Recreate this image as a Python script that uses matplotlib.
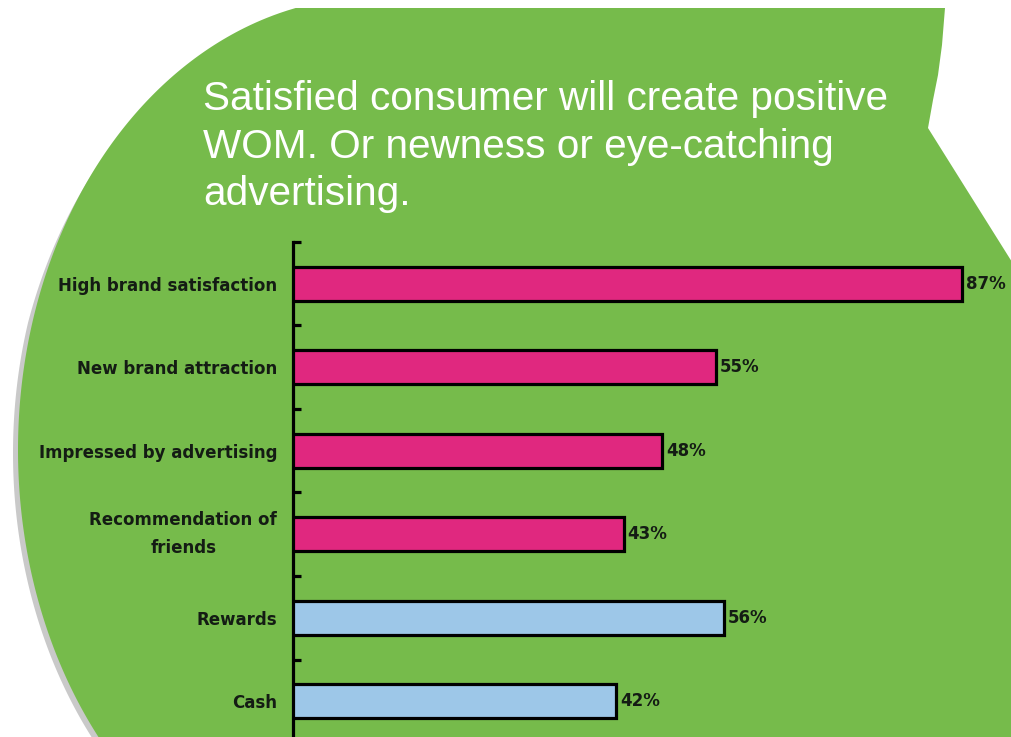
import matplotlib
matplotlib.use("Agg")
import matplotlib.pyplot as plt
import numpy as np
from matplotlib.patches import Polygon

# ---- data ----
categories = [
    "High brand satisfaction",
    "New brand attraction",
    "Impressed by advertising",
    "Recommendation of\nfriends",
    "Rewards",
    "Cash",
]
values = [87, 55, 48, 43, 56, 42]
groups = ["driver", "driver", "driver", "driver", "incentive", "incentive"]
title_lines = [
    "Satisfied consumer will create positive",
    "WOM. Or newness or eye-catching",
    "advertising.",
]

group_colors = {"driver": "#E0287F", "incentive": "#9DC7E8"}
green = "#76BB4B"

W, H = 1012, 737
fig = plt.figure(figsize=(W / 100, H / 100), dpi=100)
fig.patch.set_facecolor("white")

# ---- background bubble drawn in pixel space ----
bg = fig.add_axes([0, 0, 1, 1])
bg.set_xlim(0, W)
bg.set_ylim(H, 0)
bg.axis("off")

cx, cy, ea, eb = 373.5, 450, 355.5, 453
ys = np.linspace(8, H, 300)
xs = cx - ea * np.sqrt(np.clip(1 - ((ys - cy) / eb) ** 2, 0, None))
right_edge = [(W + 10, H + 10), (W + 10, 262), (W, 262), (928, 128),
              (933, 100), (938, 75), (942, 45), (945, 8)]

shade = np.clip((ys - 120) / 200, 0, 1)
shadow_pts = list(zip(xs - 5 * shade, ys + 3)) + [(W + 10, H + 10)]
bg.add_patch(Polygon(shadow_pts, closed=True, facecolor="#c9c9c9",
                     edgecolor="none"))
bubble_pts = list(zip(xs, ys)) + [(xs[-1], H + 10)] + right_edge
bg.add_patch(Polygon(bubble_pts, closed=True, facecolor=green,
                     edgecolor="none"))

for i, line in enumerate(title_lines):
    bg.text(203, 110 + 47.5 * i, line, color="white", fontsize=29.2,
            family="Liberation Sans", ha="left", va="baseline")

# ---- bar chart ----
px = 7.69  # pixels per percentage point
xmax = 90
ax = fig.add_axes([293 / W, (H - 743) / H, xmax * px / W, 501 / H])
ax.patch.set_alpha(0)
y = np.arange(len(categories))
ax.barh(y, values, height=0.41,
        color=[group_colors[g] for g in groups],
        edgecolor="black", linewidth=2.3, zorder=3)
ax.set_xlim(0, xmax)
ax.set_ylim(len(categories) - 0.5, -0.5)

for s in ["top", "right", "bottom"]:
    ax.spines[s].set_visible(False)
ax.spines["left"].set_linewidth(2.3)
ax.set_xticks([])

ax.set_yticks(np.arange(len(categories) + 1) - 0.5)
ax.set_yticklabels([])
ax.tick_params(axis="y", which="major", direction="in", length=6,
               width=2.3, color="black")
ax.set_yticks(y, minor=True)
ax.set_yticklabels(categories, minor=True)
ax.tick_params(axis="y", which="minor", length=0, pad=11.5)
for lbl in ax.get_yticklabels(minor=True):
    lbl.set_fontweight("bold")
    lbl.set_fontsize(12)
    lbl.set_family("DejaVu Sans")
    lbl.set_color("#141c14")
    lbl.set_multialignment("center")
    lbl.set_linespacing(1.7)
    if "\n" in lbl.get_text():
        lbl.set_verticalalignment("center")

for yi, v in zip(y, values):
    ax.text(v + 0.5, yi, f"{v}%", va="center", ha="left",
            fontsize=12, fontweight="bold", family="DejaVu Sans",
            color="#141c14", zorder=4)

fig.savefig("out.png", dpi=100, facecolor="white")
